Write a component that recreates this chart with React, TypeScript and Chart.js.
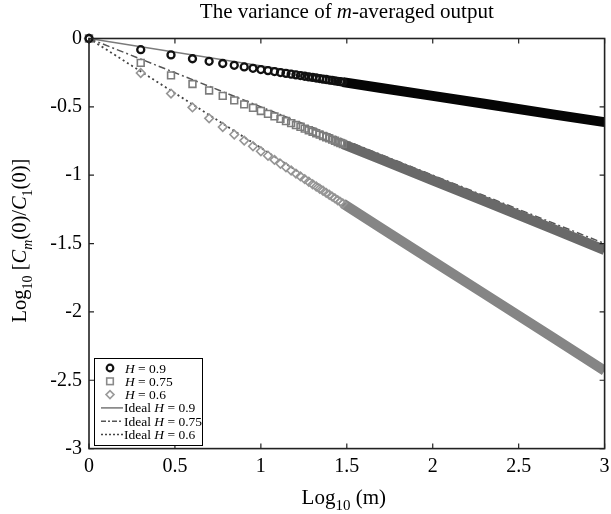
import React, { useEffect, useRef } from 'react';
import { Chart, registerables } from 'chart.js';

Chart.register(...registerables);

// aggregation levels m with individually visible markers
const mMarkers = [1, 2, 3, 4, 5, 6, 7, 8, 9, 10, 11, 12, 13, 14, 15, 16, 17, 18, 19, 20, 21, 22, 23, 24, 25, 26, 27, 28, 29, 30];
const h09Markers = [0, -0.082, -0.12, -0.148, -0.167, -0.183, -0.196, -0.208, -0.218, -0.227, -0.235, -0.242, -0.249, -0.255, -0.261, -0.266, -0.271, -0.276, -0.281, -0.285, -0.289, -0.293, -0.297, -0.3, -0.304, -0.307, -0.31, -0.313, -0.316, -0.319];
const h075Markers = [0, -0.178, -0.27, -0.333, -0.38, -0.42, -0.453, -0.482, -0.507, -0.53, -0.551, -0.57, -0.588, -0.604, -0.619, -0.633, -0.646, -0.659, -0.671, -0.682, -0.693, -0.703, -0.713, -0.722, -0.731, -0.74, -0.748, -0.757, -0.764, -0.772];
const h06Markers = [0, -0.252, -0.403, -0.504, -0.584, -0.647, -0.702, -0.747, -0.788, -0.825, -0.858, -0.888, -0.916, -0.942, -0.966, -0.988, -1.009, -1.029, -1.048, -1.066, -1.083, -1.099, -1.114, -1.129, -1.143, -1.157, -1.17, -1.183, -1.195, -1.207];

// dense region where markers merge into a band
const mBand = [30, 50, 100, 200, 500, 1000];
const h09Band = [-0.319, -0.362, -0.42, -0.477, -0.555, -0.612];
const h075Band = [-0.772, -0.884, -1.037, -1.19, -1.392, -1.548];
const h06Band = [-1.207, -1.386, -1.628, -1.868, -2.187, -2.43];

// ideal lines
const mIdeal = [1, 1000];
const idealH09 = [0, -0.6];
const idealH075 = [0, -1.5];
const idealH06 = [0, -2.4];

const xTicks = [0, 0.5, 1, 1.5, 2, 2.5, 3];
const yTicks = [0, -0.5, -1, -1.5, -2, -2.5, -3];

const legendLabels = ['0.9', '0.75', '0.6'];

const FAM = '"Liberation Serif", "Times New Roman", serif';

type Seg = { t: string; it?: boolean; sub?: boolean };

function drawRich(ctx: CanvasRenderingContext2D, segs: Seg[], x: number, y: number, size: number, align: 'center' | 'left') {
  const fontFor = (s: Seg) => `${s.it ? 'italic ' : ''}${s.sub ? Math.round(size * 0.7) : size}px ${FAM}`;
  let total = 0;
  const widths = segs.map((s) => {
    ctx.font = fontFor(s);
    const w = ctx.measureText(s.t).width;
    total += w;
    return w;
  });
  let cx = align === 'center' ? x - total / 2 : x;
  ctx.textAlign = 'left';
  ctx.textBaseline = 'alphabetic';
  segs.forEach((s, i) => {
    ctx.font = fontFor(s);
    ctx.fillText(s.t, cx, y + (s.sub ? size * 0.28 : 0));
    cx += widths[i];
  });
}

const pts = (ms: number[], ys: number[]) => ms.map((m, i) => ({ x: Math.log10(m), y: ys[i] }));

const decorPlugin = {
  id: 'decor',
  afterDatasetsDraw(chart: any) {
    const ctx: CanvasRenderingContext2D = chart.ctx;
    const { left, right, top, bottom } = chart.chartArea;
    const xs = chart.scales.x;
    const ys = chart.scales.y;
    ctx.save();
    ctx.strokeStyle = '#222';
    ctx.lineWidth = 1.6;
    ctx.strokeRect(left, top, right - left, bottom - top);
    ctx.lineWidth = 1.2;
    ctx.beginPath();
    xTicks.forEach((v) => {
      const px = xs.getPixelForValue(v);
      ctx.moveTo(px, bottom);
      ctx.lineTo(px, bottom - 5);
      ctx.moveTo(px, top);
      ctx.lineTo(px, top + 5);
    });
    yTicks.forEach((v) => {
      const py = ys.getPixelForValue(v);
      ctx.moveTo(left, py);
      ctx.lineTo(left + 5, py);
      ctx.moveTo(right, py);
      ctx.lineTo(right - 5, py);
    });
    ctx.stroke();
    ctx.restore();
  },
  afterDraw(chart: any) {
    const ctx: CanvasRenderingContext2D = chart.ctx;
    const { left, right, top, bottom } = chart.chartArea;
    ctx.save();
    ctx.fillStyle = '#000';
    drawRich(ctx, [{ t: 'The variance of ' }, { t: 'm', it: true }, { t: '-averaged output' }], (left + right) / 2, 17.5, 21, 'center');
    drawRich(ctx, [{ t: 'Log' }, { t: '10', sub: true }, { t: ' (m)' }], (left + right) / 2 - 3, 504, 21, 'center');
    ctx.save();
    ctx.translate(26, (top + bottom) / 2 - 3);
    ctx.rotate(-Math.PI / 2);
    drawRich(
      ctx,
      [
        { t: 'Log' },
        { t: '10', sub: true },
        { t: ' [' },
        { t: 'C', it: true },
        { t: 'm', it: true, sub: true },
        { t: '(0)/' },
        { t: 'C', it: true },
        { t: '1', sub: true },
        { t: '(0)]' },
      ],
      0,
      0,
      20.5,
      'center'
    );
    ctx.restore();

    // legend
    const bx = left + 5;
    const by = 358;
    const bw = 108;
    const bh = 87;
    ctx.fillStyle = '#fff';
    ctx.fillRect(bx, by, bw, bh);
    ctx.strokeStyle = '#000';
    ctx.lineWidth = 1;
    ctx.strokeRect(bx + 0.5, by + 0.5, bw, bh);
    const rowY = (i: number) => by + 10 + i * 13.3;
    const mx = bx + 16;
    ctx.lineWidth = 2.2;
    ctx.strokeStyle = '#111';
    ctx.beginPath();
    ctx.arc(mx, rowY(0), 3.3, 0, Math.PI * 2);
    ctx.stroke();
    ctx.lineWidth = 1.6;
    ctx.strokeStyle = '#8a8a8a';
    ctx.strokeRect(mx - 3.3, rowY(1) - 3.3, 6.6, 6.6);
    ctx.strokeStyle = '#9a9a9a';
    ctx.beginPath();
    ctx.moveTo(mx - 4, rowY(2));
    ctx.lineTo(mx, rowY(2) - 4);
    ctx.lineTo(mx + 4, rowY(2));
    ctx.lineTo(mx, rowY(2) + 4);
    ctx.closePath();
    ctx.stroke();
    const lineStyles: { c: string; d: number[]; w: number }[] = [
      { c: '#777', d: [], w: 1.5 },
      { c: '#555', d: [5, 2, 2, 2], w: 1.5 },
      { c: '#444', d: [2, 2], w: 1.6 },
    ];
    lineStyles.forEach((s, i) => {
      ctx.strokeStyle = s.c;
      ctx.lineWidth = s.w;
      ctx.setLineDash(s.d);
      ctx.beginPath();
      ctx.moveTo(bx + 7, rowY(3 + i));
      ctx.lineTo(bx + 29, rowY(3 + i));
      ctx.stroke();
    });
    ctx.setLineDash([]);
    ctx.fillStyle = '#000';
    const tx = bx + 31;
    legendLabels.forEach((lab, i) => {
      drawRich(ctx, [{ t: 'H', it: true }, { t: ' = ' + lab }], tx, rowY(i) + 4.5, 13.5, 'left');
    });
    legendLabels.forEach((lab, i) => {
      drawRich(ctx, [{ t: 'Ideal ' }, { t: 'H', it: true }, { t: ' = ' + lab }], tx - 1, rowY(3 + i) + 4.5, 13.5, 'left');
    });
    ctx.restore();
  },
};

export default function App() {
  const ref = useRef<HTMLCanvasElement | null>(null);
  useEffect(() => {
    document.body.style.margin = '0';
    const canvas = ref.current;
    if (!canvas) return;
    const markerBase = { showLine: false, clip: false as any, order: 1 };
    const chart = new Chart(canvas, {
      type: 'line',
      data: {
        datasets: [
          {
            ...markerBase,
            label: 'H = 0.9',
            data: pts(mMarkers, h09Markers),
            pointStyle: 'circle',
            pointRadius: 3.5,
            pointBorderWidth: 2.3,
            borderColor: '#111',
            backgroundColor: 'rgba(0,0,0,0)',
          },
          {
            ...markerBase,
            label: 'H = 0.75',
            data: pts(mMarkers, h075Markers),
            pointStyle: 'rect',
            pointRadius: 4.8,
            pointBorderWidth: 1.6,
            borderColor: '#7c7c7c',
            backgroundColor: 'rgba(0,0,0,0)',
          },
          {
            ...markerBase,
            label: 'H = 0.6',
            data: pts(mMarkers, h06Markers),
            pointStyle: 'rectRot',
            pointRadius: 4.3,
            pointBorderWidth: 1.6,
            borderColor: '#959595',
            backgroundColor: 'rgba(0,0,0,0)',
          },
          {
            label: 'band 0.9',
            data: pts(mBand, h09Band),
            borderColor: '#050505',
            borderWidth: 10,
            pointRadius: 0,
            borderCapStyle: 'butt',
            order: 2,
          },
          {
            label: 'band 0.75',
            data: pts(mBand, h075Band),
            borderColor: '#696969',
            borderWidth: 10,
            pointRadius: 0,
            borderCapStyle: 'butt',
            order: 2,
          },
          {
            label: 'band 0.6',
            data: pts(mBand, h06Band),
            borderColor: '#858585',
            borderWidth: 10,
            pointRadius: 0,
            borderCapStyle: 'butt',
            order: 2,
          },
          {
            label: 'Ideal H = 0.9',
            data: pts(mIdeal, idealH09),
            borderColor: '#7a7a7a',
            borderWidth: 1.5,
            pointRadius: 0,
            order: 3,
          },
          {
            label: 'Ideal H = 0.75',
            data: pts(mIdeal, idealH075),
            borderColor: '#555',
            borderWidth: 1.5,
            borderDash: [7, 3, 2, 3],
            pointRadius: 0,
            order: 3,
          },
          {
            label: 'Ideal H = 0.6',
            data: pts(mIdeal, idealH06),
            borderColor: '#444',
            borderWidth: 1.8,
            borderDash: [2, 3],
            pointRadius: 0,
            order: 3,
          },
        ] as any,
      },
      options: {
        responsive: false,
        animation: false,
        events: [],
        layout: { padding: { top: 38.5, right: 2, left: 0, bottom: 0 } },
        plugins: { legend: { display: false }, tooltip: { enabled: false }, title: { display: false } },
        scales: {
          x: {
            type: 'linear',
            min: 0,
            max: 3,
            grid: { display: false, drawTicks: false },
            border: { display: false },
            ticks: {
              padding: 6,
              color: '#000',
              font: { family: FAM, size: 20 },
              callback: (v: any) => String(v),
            },
            afterBuildTicks: (s: any) => {
              s.ticks = xTicks.map((v) => ({ value: v }));
            },
            afterFit: (s: any) => {
              s.height = 65.4;
              s.paddingLeft = 0;
              s.paddingRight = 0;
            },
          },
          y: {
            type: 'linear',
            min: -3,
            max: 0,
            grid: { display: false, drawTicks: false },
            border: { display: false },
            ticks: {
              padding: 7,
              color: '#000',
              font: { family: FAM, size: 20 },
              callback: (v: any) => String(v),
            },
            afterBuildTicks: (s: any) => {
              s.ticks = yTicks.map((v) => ({ value: v }));
            },
            afterFit: (s: any) => {
              s.width = 89;
              s.paddingTop = 0;
              s.paddingBottom = 0;
            },
          },
        },
      } as any,
      plugins: [decorPlugin],
    });
    return () => chart.destroy();
  }, []);
  return <canvas ref={ref} width={611} height={514} style={{ display: 'block', width: 611, height: 514 }} />;
}
